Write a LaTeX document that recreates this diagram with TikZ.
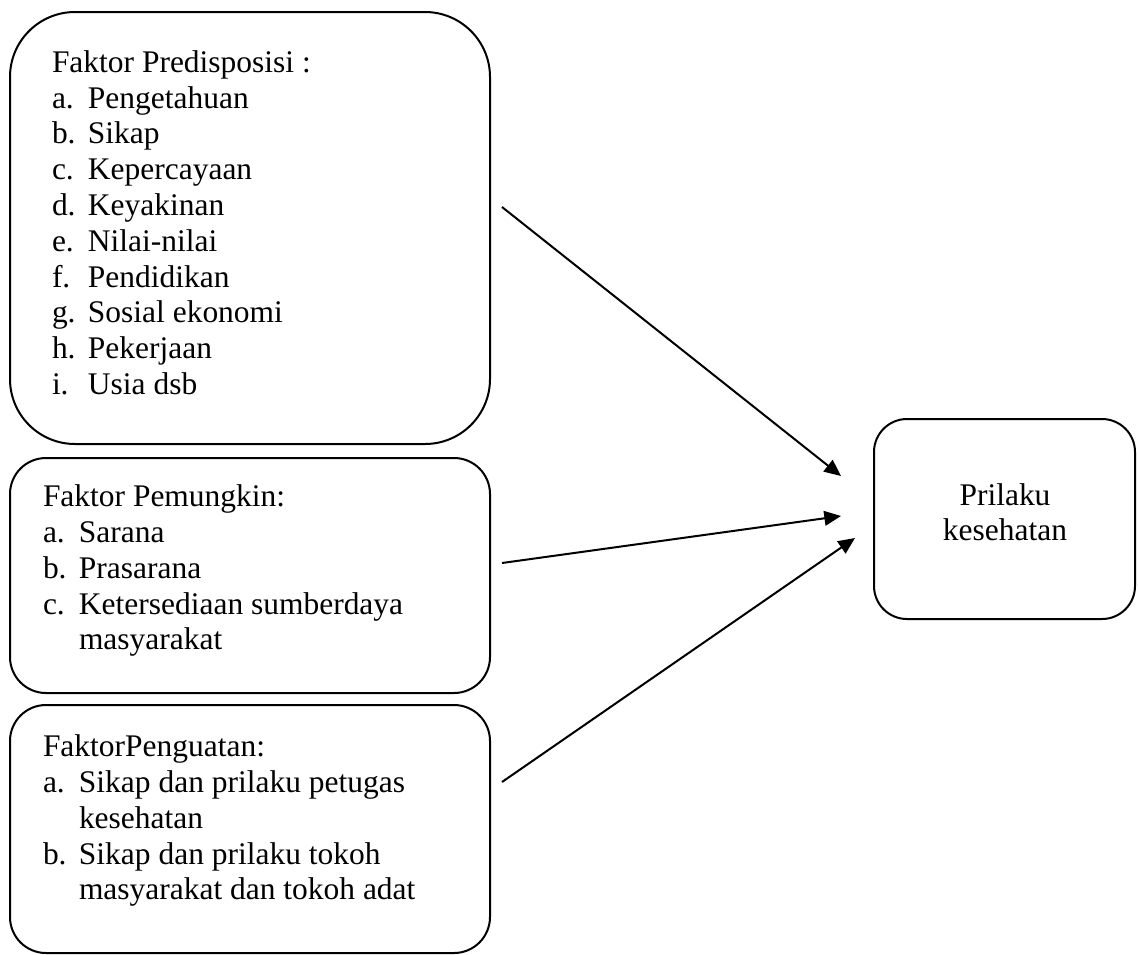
\documentclass[tikz,border=0pt]{standalone}
\usepackage{fontspec}
\setmainfont{Liberation Serif}
\usetikzlibrary{arrows.meta}
\begin{document}
\begin{tikzpicture}[x=0.75pt,y=-0.75pt,
  box/.style={draw,line width=1.5pt,rectangle,inner sep=0pt,outer sep=0pt},
  txt/.style={anchor=base west,inner sep=0pt,outer sep=0pt,font=\fontsize{23.6}{26.85}\selectfont},
  ctxt/.style={anchor=base,inner sep=0pt,outer sep=0pt,font=\fontsize{23.6}{26.85}\selectfont},
  arr/.style={line width=1.5pt,-{Triangle[length=12.5pt,width=11pt]}}]
\useasboundingbox (0,0) rectangle (1138,954);
% boxes
\node[box,rounded corners=48.75pt,minimum width=360pt,minimum height=324pt] (b1) at (250,228) {};
\node[box,rounded corners=27pt,minimum width=360pt,minimum height=176.25pt] (b2) at (250,575.5) {};
\node[box,rounded corners=27pt,minimum width=360pt,minimum height=186pt] (b3) at (250,829) {};
\node[box,rounded corners=24.75pt,minimum width=195.75pt,minimum height=150pt] (b4) at (1004.5,519) {};
% texts
\node[txt] (t1) at (52,72.3) {\begin{tabular}[t]{@{}p{27pt}@{}l@{}}
\multicolumn{2}{@{}l@{}}{Faktor Predisposisi :}\\
a. & Pengetahuan\\
b. & Sikap\\
c. & Kepercayaan\\
d. & Keyakinan\\
e. & Nilai-nilai\\
f. & Pendidikan\\
g. & Sosial ekonomi\\
h. & Pekerjaan\\
i. & Usia dsb
\end{tabular}};
\node[txt] (t2) at (43,506.7) {\begin{tabular}[t]{@{}p{27pt}@{}l@{}}
\multicolumn{2}{@{}l@{}}{Faktor Pemungkin:}\\
a. & Sarana\\
b. & Prasarana\\
c. & Ketersediaan sumberdaya\\
   & masyarakat
\end{tabular}};
\node[txt] (t3) at (43,756.7) {\begin{tabular}[t]{@{}p{27pt}@{}l@{}}
\multicolumn{2}{@{}l@{}}{FaktorPenguatan:}\\
a. & Sikap dan prilaku petugas\\
   & kesehatan\\
b. & Sikap dan prilaku tokoh\\
   & masyarakat dan tokoh adat
\end{tabular}};
\node[ctxt] (t4) at (1005,505) {\begin{tabular}[t]{@{}c@{}}Prilaku\\kesehatan\end{tabular}};
% arrow end points
\coordinate (s1) at (502,207);
\coordinate (s2) at (502,563);
\coordinate (s3) at (502,782);
\coordinate (e1) at (841,476);
\coordinate (e2) at (841,516);
\coordinate (e3) at (855,538);
\draw[arr] (s1) -- (e1);
\draw[arr] (s2) -- (e2);
\draw[arr] (s3) -- (e3);
\end{tikzpicture}
\end{document}
